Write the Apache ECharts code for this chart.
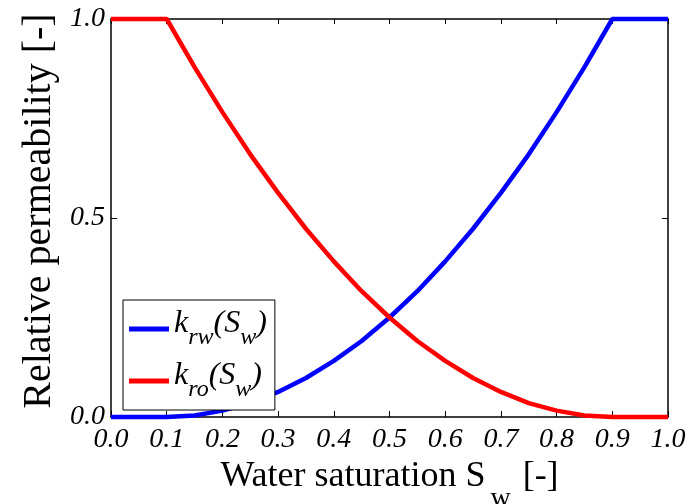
<!DOCTYPE html>
<html><head><meta charset="utf-8">
<script src="https://cdn.jsdelivr.net/npm/echarts@6/dist/echarts.min.js"></script>
<style>html,body{margin:0;padding:0;background:#fff}#c{width:699px;height:504px}</style>
</head><body><div id="c"></div>
<script>
const sw  = [0,0.05,0.1,0.15,0.2,0.25,0.3,0.35,0.4,0.45,0.5,0.55,0.6,0.65,0.7,0.75,0.8,0.85,0.9,0.95,1.0];
const krw = [0,0,0,0.004,0.016,0.035,0.063,0.098,0.141,0.191,0.25,0.316,0.391,0.473,0.563,0.660,0.766,0.879,1.0,1.0,1.0];
const kro = [1,1,1,0.879,0.766,0.660,0.563,0.473,0.391,0.316,0.25,0.191,0.141,0.098,0.063,0.035,0.016,0.004,0,0,0];
const seriesNames = ['krw','kro'];
const FONT = '"Liberation Serif", "DejaVu Serif", serif';

const chart = echarts.init(document.getElementById('c'), null, {renderer:'canvas'});
const richLegend = {
  k: {fontFamily: FONT, fontStyle:'italic', fontSize: 32, color:'#000', verticalAlign:'top', padding:[0,0,0,0]},
  s: {fontFamily: FONT, fontStyle:'italic', fontSize: 24, color:'#000', padding:[18,0,0,0], verticalAlign:'bottom'}
};
chart.setOption({
  animation:false,
  backgroundColor:'#fff',
  grid:{left:111, right:31, top:19, bottom:87, containLabel:false, outerBoundsMode:'none'},
  legend:{
    orient:'vertical', left:123, top:300, icon:'rect', itemWidth:40, itemHeight:5,
    itemGap:10, padding:[8,8,8,6], borderColor:'#000', borderWidth:1, backgroundColor:'#fff',
    data: seriesNames,
    formatter: function(n){
      const sub = n === 'krw' ? 'rw' : 'ro';
      return '{k|k}{s|' + sub + '}{k|(S}{s|w}{k|)}';
    },
    textStyle:{rich: richLegend}
  },
  xAxis:[{
    type:'value', min:0, max:1, interval:0.1,
    name:'{a|Water saturation S}{b|w}{a|[-]}', nameLocation:'middle', nameGap:33,
    nameTextStyle:{rich:{
      a:{fontFamily:FONT, fontSize:36, color:'#000', verticalAlign:'top'},
      b:{fontFamily:FONT, fontSize:28, color:'#000', padding:[26,12,0,5], verticalAlign:'bottom'}
    }},
    axisLine:{onZero:false, lineStyle:{color:'#000', width:1.5}},
    axisTick:{inside:true, length:6, lineStyle:{color:'#000'}},
    axisLabel:{fontFamily:FONT, fontStyle:'italic', fontSize:28, color:'#000', margin:9,
      formatter:v=>v.toFixed(1)},
    splitLine:{show:false}
  },{
    type:'value', min:0, max:1, interval:0.1, position:'top',
    axisLine:{onZero:false, lineStyle:{color:'#000', width:1.5}},
    axisTick:{inside:true, length:5, lineStyle:{color:'#000'}},
    axisLabel:{show:false}, splitLine:{show:false}
  }],
  yAxis:[{
    type:'value', min:0, max:1, interval:0.5,
    name:'Relative permeability [-]', nameLocation:'middle', nameGap:46,
    nameTextStyle:{fontFamily:FONT, fontSize:40, color:'#000', padding:[0,0,0,14]},
    axisLine:{onZero:false, lineStyle:{color:'#000', width:1.5}},
    axisTick:{inside:true, length:6, lineStyle:{color:'#000'}},
    axisLabel:{fontFamily:FONT, fontStyle:'italic', fontSize:28, color:'#000', margin:6,
      formatter:v=>v.toFixed(1)},
    splitLine:{show:false}
  },{
    type:'value', min:0, max:1, interval:0.5, position:'right',
    axisLine:{onZero:false, lineStyle:{color:'#000', width:1.5}},
    axisTick:{inside:true, length:6, lineStyle:{color:'#000'}},
    axisLabel:{show:false}, splitLine:{show:false}
  }],
  series:[
    {name:'krw', type:'line', data: sw.map((x,i)=>[x,krw[i]]), showSymbol:false, clip:false,
     lineStyle:{color:'#0000ff', width:4.5}, itemStyle:{color:'#0000ff'}, z:3},
    {name:'kro', type:'line', data: sw.map((x,i)=>[x,kro[i]]), showSymbol:false, clip:false,
     lineStyle:{color:'#ff0000', width:4.5}, itemStyle:{color:'#ff0000'}, z:3}
  ]
});
</script></body></html>
